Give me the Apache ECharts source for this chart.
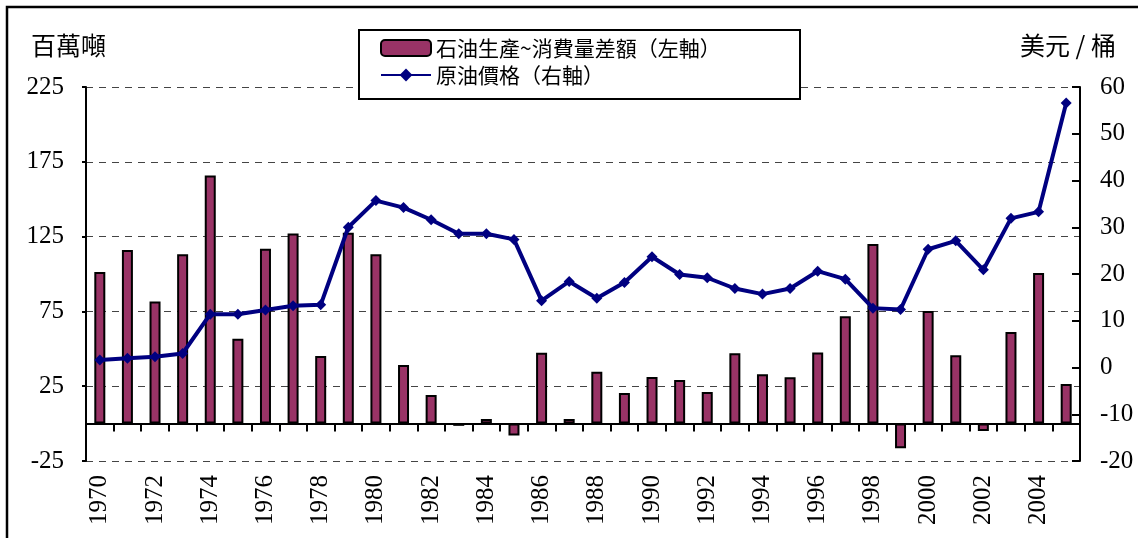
<!DOCTYPE html>
<html>
<head>
<meta charset="utf-8">
<script src="https://cdn.jsdelivr.net/npm/echarts@6/dist/echarts.min.js"></script>
<style>
  html, body { margin: 0; padding: 0; background: #fff; }
  #chart { width: 1138px; height: 538px; }
</style>
</head>
<body>
<div id="chart"></div>
<script>
// 年份
const years = ['1970', '1971', '1972', '1973', '1974', '1975', '1976', '1977', '1978', '1979',
  '1980', '1981', '1982', '1983', '1984', '1985', '1986', '1987', '1988', '1989',
  '1990', '1991', '1992', '1993', '1994', '1995', '1996', '1997', '1998', '1999',
  '2000', '2001', '2002', '2003', '2004', '2005']

// 石油生產~消費量差額 (百萬噸)
const gapValues = [101.4, 116.1, 81.6, 113.2, 165.8, 56.8, 116.8, 127, 45.2, 127.5,
  113.2, 39.2, 19.2, -1.5, 3, -8, 47.3, 3, 34.6, 20.5,
  31.2, 29.2, 21.2, 47, 33, 31, 47.5, 71.7, 120.1, -16.5,
  75.3, 45.7, -5, 61.3, 100.7, 26.5]

// 原油價格 (美元/桶)
const priceValues = [1.6, 2.0, 2.3, 3.0, 11.4, 11.4, 12.3, 13.2, 13.4, 30.0,
  35.7, 34.2, 31.6, 28.6, 28.6, 27.4, 14.3, 18.4, 14.8, 18.2,
  23.7, 19.9, 19.2, 16.9, 15.7, 16.9, 20.6, 18.9, 12.7, 12.4,
  25.3, 27.1, 20.9, 31.9, 33.3, 56.6]

// 軸範圍 [min, max, interval]
const leftAxisRange = [-25, 225, 50]
const rightAxisRange = [-20, 60, 10]

const seriesNames = ['石油生產~消費量差額（左軸）', '原油價格（右軸）']
const axisTitles = ['百萬噸', '美元 / 桶']

const numFont = '"Liberation Serif", "Times New Roman", serif'
const cjkFont = '"Noto Sans CJK TC", "Noto Sans CJK SC", sans-serif'

const chart = echarts.init(document.getElementById('chart'))
chart.setOption({
  animation: false,
  backgroundColor: '#fff',
  graphic: [
    {
      type: 'rect',
      shape: { x: 7, y: 7, width: 1145, height: 545 },
      style: { fill: 'none', stroke: '#000', lineWidth: 2.5 },
      silent: true
    },
    {
      type: 'text', left: 31, top: 33,
      style: { text: axisTitles[0], font: '25px ' + cjkFont, fill: '#000' }
    },
    {
      type: 'text', left: 1020, top: 33,
      style: { text: axisTitles[1], font: '25px ' + cjkFont, fill: '#000' }
    }
  ],
  grid: { left: 86, right: 58, top: 87, bottom: 77, outerBoundsMode: 'none', containLabel: false },
  legend: {
    orient: 'vertical',
    left: 359,
    top: 30,
    padding: [7, 14, 13, 21],
    itemGap: 5,
    itemWidth: 50,
    itemHeight: 16,
    backgroundColor: '#fff',
    borderColor: '#000',
    borderWidth: 2,
    borderRadius: 0,
    data: seriesNames,
    textStyle: {
      fontFamily: cjkFont,
      fontSize: 21,
      color: '#000',
      lineHeight: 22,
      width: 350
    }
  },
  xAxis: {
    type: 'category',
    data: years,
    boundaryGap: true,
    axisLine: { onZero: true, onZeroAxisIndex: 0, lineStyle: { color: '#000', width: 2 } },
    axisTick: { show: true, interval: 0, length: 8, lineStyle: { color: '#000', width: 2 } },
    axisLabel: {
      interval: 1,
      rotate: 90,
      margin: 14,
      color: '#000',
      fontFamily: numFont,
      fontSize: 25
    },
    splitLine: { show: false }
  },
  yAxis: [
    {
      type: 'value',
      min: leftAxisRange[0],
      max: leftAxisRange[1],
      interval: leftAxisRange[2],
      axisLine: { show: true, lineStyle: { color: '#000', width: 2 } },
      axisTick: { show: true, length: 4, lineStyle: { color: '#000', width: 2 } },
      axisLabel: { margin: 22, color: '#000', fontFamily: numFont, fontSize: 25 },
      splitLine: { show: true, lineStyle: { color: '#444', width: 1, type: [7, 6] } }
    },
    {
      type: 'value',
      min: rightAxisRange[0],
      max: rightAxisRange[1],
      interval: rightAxisRange[2],
      position: 'right',
      axisLine: { show: true, lineStyle: { color: '#000', width: 2 } },
      axisTick: { show: true, inside: true, length: 8, lineStyle: { color: '#000', width: 2 } },
      axisLabel: { margin: 20, color: '#000', fontFamily: numFont, fontSize: 25 },
      splitLine: { show: false }
    }
  ],
  series: [
    {
      name: seriesNames[0],
      type: 'bar',
      yAxisIndex: 0,
      data: gapValues,
      barWidth: 11,
      itemStyle: { color: '#993366', borderColor: '#000', borderWidth: 2 }
    },
    {
      name: seriesNames[1],
      type: 'line',
      yAxisIndex: 1,
      data: priceValues,
      symbol: 'diamond',
      symbolSize: 11,
      lineStyle: { color: '#000080', width: 4 },
      itemStyle: { color: '#000080' }
    }
  ]
})
</script>
</body>
</html>
